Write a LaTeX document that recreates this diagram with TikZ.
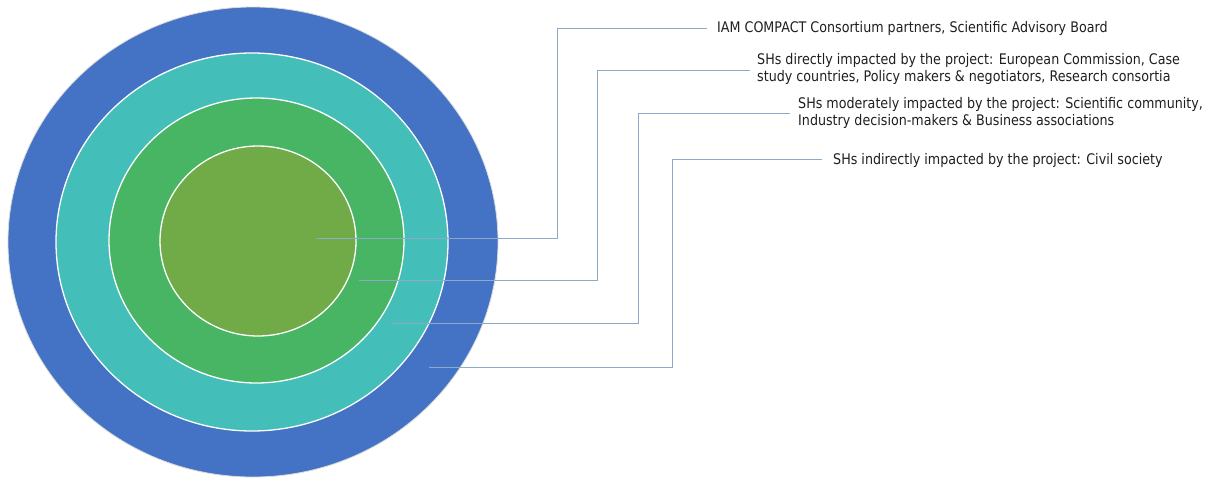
\documentclass[tikz,border=0pt]{standalone}
\usepackage{fontspec}
\setmainfont{DejaVu Sans}[FakeStretch=0.87]
\definecolor{cblue}{HTML}{4472C4}
\definecolor{cteal}{HTML}{43BEB8}
\definecolor{cgreen}{HTML}{47B563}
\definecolor{colive}{HTML}{70AB47}
\definecolor{cline}{HTML}{8EAACB}
\tikzset{
  ring/.style={draw=white, line width=1.3pt},
  leader/.style={draw=cline, line width=0.9pt},
  lbl/.style={anchor=west, inner sep=0pt, align=left, font=\fontsize{14.6}{17}\selectfont, text=black!88}
}
\begin{document}
\begin{tikzpicture}[x=1pt,y=-1pt]
\useasboundingbox (0,0) rectangle (1209,479);
\fill[cblue, draw=black!15, line width=0.8pt] (253,242) ellipse [x radius=245, y radius=235];
\filldraw[cteal, ring] (252,242) ellipse [x radius=196, y radius=189];
\filldraw[cgreen, ring] (256.5,240.5) ellipse [x radius=147.5, y radius=142.5];
\filldraw[colive, ring] (258,241) ellipse [x radius=98, y radius=95];
\coordinate (s1) at (316,238);
\coordinate (s2) at (359,280);
\coordinate (s3) at (391,323);
\coordinate (s4) at (429,367);
\node[lbl] (t1) at (717,28) {IAM COMPACT Consortium partners, Scientific Advisory Board};
\node[lbl] (t2) at (757,69) {SHs directly impacted by the project: European Commission, Case\\study countries, Policy makers \& negotiators, Research consortia};
\node[lbl] (t3) at (798,113) {SHs moderately impacted by the project: Scientific community,\\Industry decision-makers \& Business associations};
\node[lbl] (t4) at (833,160) {SHs indirectly impacted by the project: Civil society};
\draw[leader] (s1) -- (557,238) -- (557,28) -- ([xshift=-10pt]t1.west);
\draw[leader] (s2) -- (597,280) -- (597,70) -- ([xshift=-7pt]t2.west|-0,70);
\draw[leader] (s3) -- (638,323) -- (638,113) -- ([xshift=-8pt]t3.west|-0,113);
\draw[leader] (s4) -- (672,367) -- (672,159) -- ([xshift=-11pt]t4.west|-0,159);
\end{tikzpicture}
\end{document}
